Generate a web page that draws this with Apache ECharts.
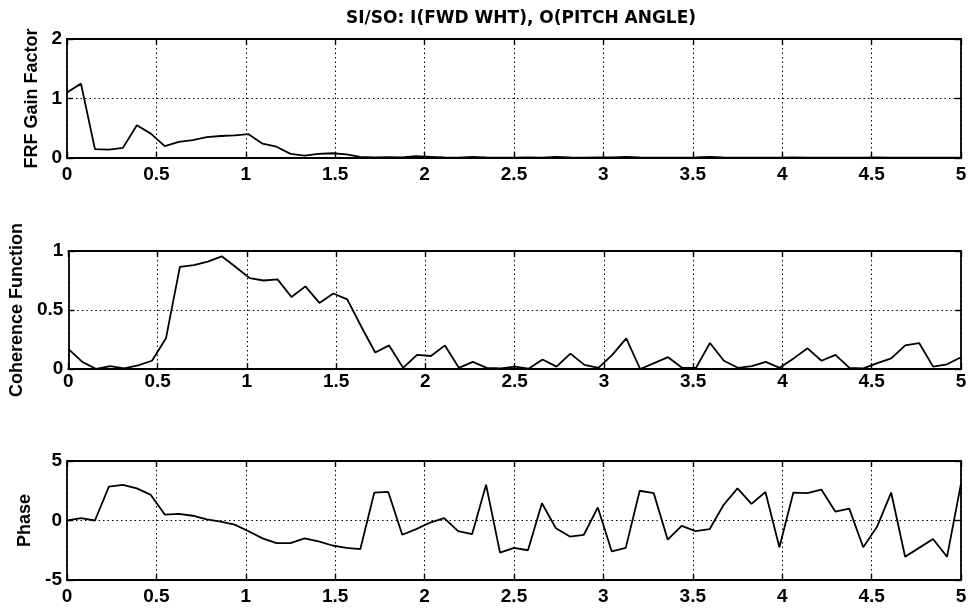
<!DOCTYPE html>
<html>
<head>
<meta charset="utf-8">
<script src="https://cdn.jsdelivr.net/npm/echarts@6/dist/echarts.min.js"></script>
<style>
  html, body { margin: 0; padding: 0; background: #fff; }
  #chart { width: 971px; height: 608px; }
</style>
</head>
<body>
<div id="chart"></div>
<script>
// Frequency bins (Hz), 5/64 Hz resolution
const freqHz = [0, 0.0781, 0.1563, 0.2344, 0.3125, 0.3906, 0.4688, 0.5469, 0.625, 0.7031,
  0.7813, 0.8594, 0.9375, 1.0156, 1.0938, 1.1719, 1.25, 1.3281, 1.4063, 1.4844,
  1.5625, 1.6406, 1.7188, 1.7969, 1.875, 1.9531, 2.0313, 2.1094, 2.1875, 2.2656,
  2.3438, 2.4219, 2.5, 2.5781, 2.6563, 2.7344, 2.8125, 2.8906, 2.9688, 3.0469,
  3.125, 3.2031, 3.2813, 3.3594, 3.4375, 3.5156, 3.5938, 3.6719, 3.75, 3.8281,
  3.9063, 3.9844, 4.0625, 4.1406, 4.2188, 4.2969, 4.375, 4.4531, 4.5313, 4.6094,
  4.6875, 4.7656, 4.8438, 4.9219, 5];

// Frequency response gain
const gainFactor = [1.10, 1.25, 0.15, 0.14, 0.17, 0.55, 0.41, 0.20, 0.27, 0.30,
  0.35, 0.37, 0.38, 0.40, 0.24, 0.19, 0.07, 0.04, 0.07, 0.08,
  0.06, 0.02, 0.01, 0.015, 0.01, 0.03, 0.02, 0.01, 0.005, 0.02,
  0.01, 0.005, 0.005, 0.01, 0.005, 0.02, 0.01, 0.005, 0.01, 0.01,
  0.02, 0.01, 0.005, 0.005, 0.005, 0.01, 0.02, 0.01, 0.005, 0.005,
  0.005, 0.005, 0.01, 0.005, 0.005, 0.005, 0.005, 0.005, 0.01, 0.005,
  0.005, 0.005, 0.005, 0.005, 0.005];

// Coherence between input and output
const coherence = [0.17, 0.06, 0.0, 0.025, 0.005, 0.03, 0.07, 0.26, 0.865, 0.88,
  0.91, 0.955, 0.865, 0.77, 0.75, 0.76, 0.61, 0.70, 0.56, 0.64,
  0.59, 0.36, 0.14, 0.2, 0.01, 0.12, 0.11, 0.2, 0.01, 0.06,
  0.01, 0.005, 0.02, 0.003, 0.08, 0.02, 0.13, 0.035, 0.01, 0.12,
  0.26, 0.0, 0.05, 0.10, 0.01, 0.01, 0.22, 0.07, 0.01, 0.025,
  0.06, 0.01, 0.09, 0.175, 0.07, 0.12, 0.01, 0.005, 0.05, 0.09,
  0.2, 0.22, 0.02, 0.04, 0.10];

// Phase (rad)
const phase = [0, 0.2, 0, 2.85, 3.0, 2.7, 2.15, 0.5, 0.55, 0.4,
  0.1, -0.1, -0.35, -0.9, -1.5, -1.9, -1.9, -1.5, -1.75, -2.1,
  -2.3, -2.4, 2.35, 2.4, -1.2, -0.73, -0.17, 0.2, -0.9, -1.15,
  3.0, -2.7, -2.3, -2.5, 1.45, -0.65, -1.35, -1.2, 1.1, -2.6,
  -2.3, 2.5, 2.3, -1.6, -0.45, -0.9, -0.73, 1.3, 2.7, 1.4,
  2.4, -2.25, 2.35, 2.3, 2.6, 0.75, 1.0, -2.25, -0.5, 2.35,
  -3.05, -2.3, -1.55, -3.05, 3.1];

const titleText = 'SI/SO: I(FWD WHT), O(PITCH ANGLE)';

const panels = [
  { name: 'FRF Gain Factor', values: gainFactor, min: 0, max: 2, interval: 1,
    top: 39, height: 119, nameGap: 21, labelMargin: 7 },
  { name: 'Coherence Function', values: coherence, min: 0, max: 1, interval: 0.5,
    top: 251, height: 118, nameGap: 35, labelMargin: 3 },
  { name: 'Phase', values: phase, min: -5, max: 5, interval: 5,
    top: 461, height: 119, nameGap: 27, labelMargin: 7 }
];

const FONT = '"Liberation Sans", Arial, sans-serif';
const frameLine = { show: true, onZero: false, lineStyle: { color: '#000', width: 1.8 } };
const gridDots = { show: true, lineStyle: { color: '#000', width: 1, type: [1.5, 3] } };
const innerTick = { show: true, inside: true, length: 6, lineStyle: { color: '#000', width: 1.4 } };
const tickFont = { color: '#000', fontFamily: FONT, fontWeight: 'bold', fontSize: 19 };

const grid = [], xAxis = [], yAxis = [], series = [];

panels.forEach((p, i) => {
  grid.push({ left: 67, right: 10, top: p.top, height: p.height });

  const xBase = { type: 'value', gridIndex: i, min: 0, max: 5, interval: 0.5,
    axisLine: frameLine, axisTick: innerTick };
  xAxis.push(Object.assign({}, xBase, {
    position: 'bottom', splitLine: gridDots,
    axisLabel: Object.assign({ margin: p.labelMargin, showMinLabel: true, showMaxLabel: true,
      hideOverlap: false, formatter: v => String(v) }, tickFont)
  }));
  xAxis.push(Object.assign({}, xBase, {
    position: 'top', splitLine: { show: false }, axisLabel: { show: false }
  }));

  const yBase = { type: 'value', gridIndex: i, min: p.min, max: p.max, interval: p.interval,
    axisLine: frameLine, axisTick: innerTick };
  yAxis.push(Object.assign({}, yBase, {
    position: 'left', splitLine: gridDots,
    name: p.name, nameLocation: 'middle', nameGap: p.nameGap,
    nameTextStyle: { color: '#000', fontFamily: FONT, fontWeight: 'bold', fontSize: 18 },
    axisLabel: Object.assign({ margin: 5, showMinLabel: true, showMaxLabel: true,
      hideOverlap: false, formatter: v => String(v) }, tickFont)
  }));
  yAxis.push(Object.assign({}, yBase, {
    position: 'right', splitLine: { show: false }, axisLabel: { show: false }
  }));

  series.push({
    type: 'line', xAxisIndex: 2 * i, yAxisIndex: 2 * i,
    data: freqHz.map((f, k) => [f, p.values[k]]),
    showSymbol: false, animation: false, clip: true,
    lineStyle: { color: '#000', width: 1.8 }
  });
});

const chart = echarts.init(document.getElementById('chart'), null, { renderer: 'canvas' });
chart.setOption({
  backgroundColor: '#fff',
  animation: false,
  graphic: [{
    type: 'text', x: 521, y: 19,
    style: { text: titleText, fill: '#000', textAlign: 'center', textVerticalAlign: 'middle',
      font: 'bold 17px "DejaVu Sans", sans-serif' }
  }],
  grid, xAxis, yAxis, series
});
</script>
</body>
</html>
